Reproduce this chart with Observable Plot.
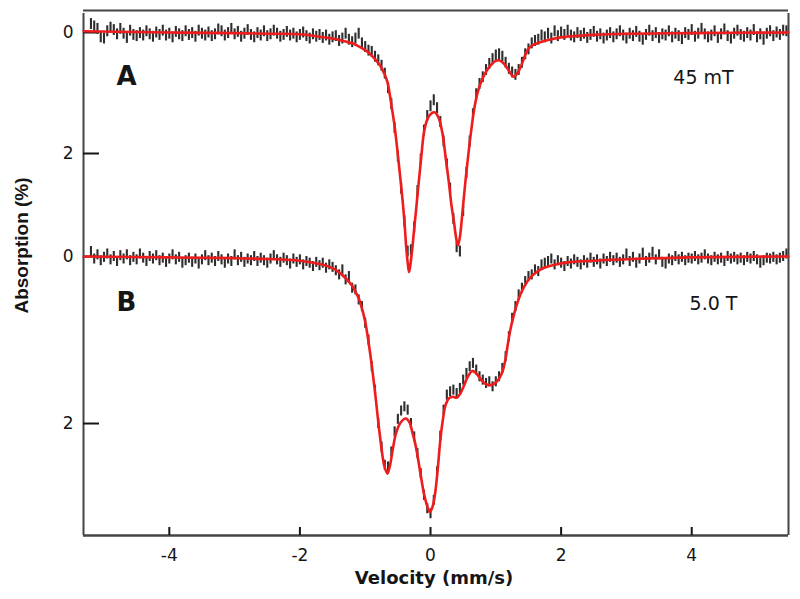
<!DOCTYPE html>
<html><head><meta charset="utf-8">
<script src="https://cdn.jsdelivr.net/npm/d3@7"></script>
<script src="https://cdn.jsdelivr.net/npm/@observablehq/plot@0.6"></script>
<style>
body{margin:0;background:#fff;}
#wrap{position:relative;width:800px;height:599px;background:#fff;}
#wrap svg{position:absolute;left:0;top:0;}
</style></head><body><div id="wrap"></div>
<script>
// Velocity channels (mm/s)
const velocity = [-5.2,-5.15,-5.1,-5.05,-5,-4.95,-4.9,-4.85,-4.8,-4.75,
-4.7,-4.65,-4.6,-4.55,-4.5,-4.45,-4.4,-4.35,-4.3,-4.25,
-4.2,-4.15,-4.1,-4.05,-4,-3.95,-3.9,-3.85,-3.8,-3.75,
-3.7,-3.65,-3.6,-3.55,-3.5,-3.45,-3.4,-3.35,-3.3,-3.25,
-3.2,-3.15,-3.1,-3.05,-3,-2.95,-2.9,-2.85,-2.8,-2.75,
-2.7,-2.65,-2.6,-2.55,-2.5,-2.45,-2.4,-2.35,-2.3,-2.25,
-2.2,-2.15,-2.1,-2.05,-2,-1.95,-1.9,-1.85,-1.8,-1.75,
-1.7,-1.65,-1.6,-1.55,-1.5,-1.45,-1.4,-1.35,-1.3,-1.25,
-1.2,-1.15,-1.1,-1.05,-1,-0.95,-0.9,-0.85,-0.8,-0.75,
-0.7,-0.65,-0.6,-0.55,-0.5,-0.45,-0.4,-0.35,-0.3,-0.25,
-0.2,-0.15,-0.1,-0.05,0,0.05,0.1,0.15,0.2,0.25,
0.3,0.35,0.4,0.45,0.5,0.55,0.6,0.65,0.7,0.75,
0.8,0.85,0.9,0.95,1,1.05,1.1,1.15,1.2,1.25,
1.3,1.35,1.4,1.45,1.5,1.55,1.6,1.65,1.7,1.75,
1.8,1.85,1.9,1.95,2,2.05,2.1,2.15,2.2,2.25,
2.3,2.35,2.4,2.45,2.5,2.55,2.6,2.65,2.7,2.75,
2.8,2.85,2.9,2.95,3,3.05,3.1,3.15,3.2,3.25,
3.3,3.35,3.4,3.45,3.5,3.55,3.6,3.65,3.7,3.75,
3.8,3.85,3.9,3.95,4,4.05,4.1,4.15,4.2,4.25,
4.3,4.35,4.4,4.45,4.5,4.55,4.6,4.65,4.7,4.75,
4.8,4.85,4.9,4.95,5,5.05,5.1,5.15,5.2,5.25,
5.3,5.35,5.4,5.45];

// Spectrum A (45 mT), absorption (%)
const absA = [-0.14,-0.10,-0.06,0.08,0.10,-0.02,-0.08,-0.04,0.03,-0.06,
0.02,0.09,-0.03,0.04,0.06,0.01,0.05,-0.02,0.03,0.07,
0.00,0.04,-0.03,0.05,0.02,0.08,-0.01,0.03,0.06,-0.02,
0.04,0.01,0.07,-0.03,0.02,0.05,0.00,0.06,0.03,-0.05,
-0.02,0.05,0.01,-0.06,0.03,-0.01,0.07,0.02,-0.04,0.04,
0.08,0.01,0.05,-0.02,0.06,0.03,-0.03,0.02,0.07,0.04,
-0.01,0.05,0.02,0.08,0.04,0.00,0.06,0.10,0.03,0.07,
0.04,0.09,0.05,0.12,0.08,0.06,0.14,0.10,0.02,0.12,
0.16,0.10,0.02,0.18,0.24,0.30,0.32,0.40,0.46,0.55,
0.68,0.92,1.18,1.58,2.05,2.58,3.12,3.62,3.60,3.22,
2.62,2.10,1.62,1.38,1.22,1.12,1.25,1.48,1.80,2.18,
2.58,3.08,3.55,3.62,2.95,2.32,1.80,1.35,1.02,0.85,
0.74,0.62,0.52,0.44,0.38,0.36,0.40,0.50,0.60,0.66,
0.70,0.62,0.50,0.36,0.28,0.18,0.14,0.12,0.05,0.08,
0.02,0.10,-0.02,0.06,0.00,0.04,-0.03,0.05,0.08,0.01,
0.06,0.02,0.09,0.04,-0.01,0.07,0.03,0.10,0.05,0.01,
0.08,0.03,-0.02,0.05,0.10,0.02,0.06,-0.01,0.07,0.12,
0.04,-0.03,0.06,0.01,0.09,0.03,0.05,-0.02,0.08,0.02,
0.06,0.11,0.01,0.04,-0.04,0.07,0.02,-0.06,0.03,0.08,
0.05,-0.02,0.09,0.03,-0.05,0.06,0.10,0.02,-0.03,0.04,
0.07,0.01,0.05,-0.04,0.08,0.03,0.12,0.02,-0.02,0.06,
0.00,0.04,-0.03,-0.02];

// Spectrum B (5.0 T), absorption (%)
const absB = [-0.06,0.03,-0.02,0.05,0.01,-0.03,0.04,0.00,0.06,-0.01,
0.03,-0.02,0.05,0.01,0.04,-0.03,0.02,0.06,0.00,0.03,
-0.01,0.05,0.02,0.07,0.03,-0.02,0.04,0.01,0.08,0.05,
0.02,0.07,0.03,0.09,0.04,-0.01,0.05,0.02,0.06,0.00,
0.04,0.08,0.03,0.06,-0.02,0.05,0.01,0.07,0.03,0.05,
0.00,0.06,0.02,0.05,0.08,0.03,-0.01,0.04,0.07,0.02,
0.05,0.09,0.03,0.07,0.04,0.10,0.06,0.08,0.12,0.07,
0.11,0.08,0.14,0.10,0.13,0.17,0.22,0.16,0.28,0.24,
0.38,0.40,0.52,0.60,0.80,1.00,1.32,1.60,2.00,2.28,
2.50,2.52,2.34,2.10,1.95,1.85,1.80,1.84,2.00,2.16,
2.36,2.60,2.86,3.02,3.08,2.92,2.58,2.15,1.84,1.66,
1.62,1.60,1.64,1.58,1.48,1.40,1.32,1.28,1.36,1.44,
1.48,1.52,1.50,1.56,1.50,1.44,1.34,1.20,0.96,0.74,
0.60,0.46,0.38,0.30,0.24,0.22,0.16,0.18,0.10,0.08,
0.06,0.03,0.10,0.05,0.08,0.12,0.06,0.09,0.04,0.07,
0.10,0.05,0.08,0.02,0.07,0.04,0.09,0.03,0.06,0.01,
0.05,0.02,0.07,0.04,-0.03,0.06,0.01,0.08,0.03,-0.04,
0.06,0.02,-0.05,0.04,-0.02,0.07,0.09,0.03,0.05,0.00,
0.04,0.01,0.05,0.02,0.03,0.00,0.04,0.02,-0.02,0.03,
0.05,0.01,0.04,0.02,0.06,0.00,0.03,0.01,0.04,0.02,
0.05,0.01,0.03,0.00,0.04,0.08,0.05,0.02,0.03,0.01,
0.04,0.02,0.00,-0.03];

// Uncertainties (half-length of each bar, %)
const errA = 0.09;
const errB = 0.06;

// Fitted curves (red)
const fitVelA = [-5.31,-4,-3,-2.5,-2,-1.7,-1.5,-1.3,-1.17,-1.05,-0.95,-0.85,-0.77,-0.7,-0.66,-0.62,-0.59,-0.55,-0.51,-0.47,-0.43,-0.4,-0.37,-0.35,-0.33,-0.31,-0.28,-0.255,-0.22,-0.18,-0.14,-0.1,-0.05,0,0.06,0.12,0.18,0.23,0.28,0.32,0.36,0.39,0.42,0.45,0.485,0.52,0.56,0.6,0.64,0.67,0.71,0.76,0.82,0.88,0.94,1,1.05,1.1,1.15,1.21,1.27,1.32,1.38,1.43,1.48,1.55,1.68,1.85,2,2.5,3,4,5.48];
const fitA = [-0.02,0,0.01,0.02,0.03,0.07,0.10,0.15,0.19,0.26,0.33,0.44,0.55,0.70,0.82,1.05,1.26,1.55,1.92,2.33,2.75,3.12,3.58,3.80,3.96,3.85,3.58,3.30,2.92,2.47,2.04,1.65,1.44,1.35,1.32,1.40,1.65,2.05,2.47,2.85,3.14,3.38,3.52,3.38,3.02,2.62,2.20,1.82,1.48,1.26,1.04,0.86,0.71,0.60,0.52,0.47,0.46,0.49,0.55,0.65,0.73,0.69,0.57,0.43,0.30,0.22,0.16,0.11,0.08,0.04,0.02,0.01,0];
const fitVelB = [-5.31,-4,-3,-2.5,-2,-1.7,-1.5,-1.4,-1.3,-1.2,-1.15,-1.1,-1.05,-1,-0.95,-0.9,-0.85,-0.8,-0.75,-0.71,-0.66,-0.62,-0.58,-0.53,-0.46,-0.38,-0.32,-0.28,-0.24,-0.2,-0.15,-0.1,-0.05,-0.01,0.03,0.07,0.11,0.15,0.19,0.23,0.28,0.34,0.4,0.45,0.51,0.57,0.64,0.7,0.77,0.85,0.92,1,1.06,1.11,1.15,1.19,1.23,1.27,1.32,1.38,1.45,1.52,1.6,1.7,1.8,1.9,2.1,2.5,3.1,4,5.48];
const fitB = [0,0.01,0.02,0.03,0.05,0.09,0.14,0.19,0.26,0.35,0.42,0.50,0.62,0.78,1.02,1.30,1.62,1.98,2.30,2.50,2.60,2.50,2.32,2.12,1.99,1.94,1.99,2.10,2.22,2.38,2.62,2.84,2.99,3.06,3.00,2.84,2.55,2.20,1.95,1.78,1.70,1.68,1.69,1.65,1.55,1.44,1.37,1.40,1.47,1.53,1.54,1.51,1.45,1.36,1.22,1.02,0.85,0.72,0.58,0.45,0.34,0.26,0.20,0.15,0.12,0.10,0.07,0.05,0.03,0.01,0];

// Text
const xTicks = [-4, -2, 0, 2, 4];
const yTicks = [0, 2];
const panelLabels = ["A", "B"];
const fieldLabels = ["45 mT", "5.0 T"];
const xLabel = "Velocity (mm/s)";
const yLabel = "Absorption (%)";

// Layout
const W = 800, H = 599;
const margins = {marginLeft: 83, marginRight: 12, marginTop: 13, marginBottom: 64};
const xDomain = [-5.314, 5.482];
const yDomainA = [8.314, -0.314];
const yDomainB = [3.341, -2.910];

const rowsA = velocity.map((v, i) => ({v, a: absA[i]}));
const rowsB = velocity.map((v, i) => ({v, a: absB[i]}));
const lineA = fitVelA.map((v, i) => ({v, a: fitA[i]}));
const lineB = fitVelB.map((v, i) => ({v, a: fitB[i]}));

const BAR = "#2e2e2e", RED = "#ee1c1c", AX = "#444444", TXT = "#151515";
const baseStyle = {fontFamily: "DejaVu Sans, sans-serif", fontSize: "17px", color: TXT, background: "transparent", overflow: "visible"};

const base = Plot.plot({
  width: W, height: H, ...margins,
  x: {domain: xDomain}, y: {domain: yDomainB},
  style: baseStyle,
  marks: [
    Plot.ruleX([xDomain[0], xDomain[1]], {stroke: AX, strokeWidth: 2}),
    Plot.ruleY([yDomainB[0]], {stroke: AX, strokeWidth: 2.4}),
    Plot.ruleY([yDomainB[1]], {stroke: AX, strokeWidth: 2, dy: -3}),
    Plot.axisX(xTicks, {tickSize: -8, tickPadding: 21, strokeWidth: 2, color: TXT, label: null, tickFormat: d => String(d), fontSize: 17}),
    Plot.axisY(yTicks, {tickSize: -16, tickPadding: 26, strokeWidth: 2, color: TXT, label: null, tickFormat: d => String(d), fontSize: 17}),
    Plot.ruleX(rowsB, {x: "v", y1: d => d.a - errB, y2: d => d.a + errB, stroke: BAR, strokeWidth: 2.1}),
    Plot.line(lineB, {x: "v", y: "a", stroke: RED, strokeWidth: 2.6, curve: "catmull-rom"}),
    Plot.text([panelLabels[1]], {frameAnchor: "top-left", dx: 43, dy: 289.5, textAnchor: "middle", lineAnchor: "middle", fontWeight: "bold", fontSize: 26, fill: TXT}),
    Plot.text([fieldLabels[1]], {frameAnchor: "top-right", dx: -75, dy: 290.5, textAnchor: "middle", lineAnchor: "middle", fontSize: 19, fill: TXT}),
    Plot.text([xLabel], {frameAnchor: "bottom", dx: -2, dy: 43, textAnchor: "middle", lineAnchor: "middle", fontWeight: "bold", fontSize: 18, fill: TXT}),
    Plot.text([yLabel], {frameAnchor: "left", dx: -62, dy: -29, rotate: -90, textAnchor: "middle", lineAnchor: "middle", fontWeight: "bold", fontSize: 19, fontFamily: "Liberation Sans, Arial, sans-serif", fill: TXT})
  ]
});

const topLayer = Plot.plot({
  width: W, height: H, ...margins,
  x: {domain: xDomain, axis: null}, y: {domain: yDomainA},
  style: baseStyle,
  marks: [
    Plot.axisY(yTicks, {tickSize: -16, tickPadding: 26, strokeWidth: 2, color: TXT, label: null, tickFormat: d => String(d), fontSize: 17}),
    Plot.ruleX(rowsA, {x: "v", y1: d => d.a - errA, y2: d => d.a + errA, stroke: BAR, strokeWidth: 2.1}),
    Plot.line(lineA, {x: "v", y: "a", stroke: RED, strokeWidth: 2.6, curve: "catmull-rom"}),
    Plot.text([panelLabels[0]], {frameAnchor: "top-left", dx: 43, dy: 63.5, textAnchor: "middle", lineAnchor: "middle", fontWeight: "bold", fontSize: 26, fill: TXT}),
    Plot.text([fieldLabels[0]], {frameAnchor: "top-right", dx: -85, dy: 64.5, textAnchor: "middle", lineAnchor: "middle", fontSize: 19, fill: TXT})
  ]
});

const wrap = document.getElementById("wrap");
wrap.appendChild(base);
wrap.appendChild(topLayer);
</script>
</body></html>
